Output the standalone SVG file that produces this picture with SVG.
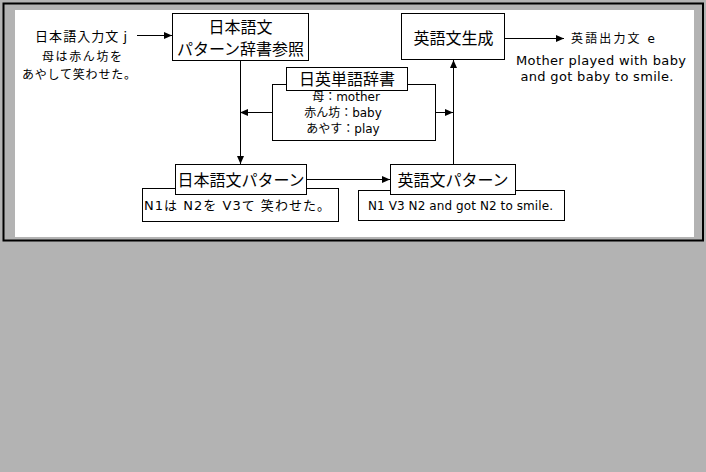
<svg xmlns="http://www.w3.org/2000/svg" width="706" height="472" viewBox="0 0 706 472">
<style>
.box{fill:#fff;stroke:#000;stroke-width:1}
.ln{fill:none;stroke:#000;stroke-width:1}
text{font-family:"DejaVu Sans","Noto Sans CJK JP",sans-serif;fill:#000}
.jp{font-family:"Noto Sans CJK JP",sans-serif}
.t16{font-size:16px}
.t13{font-size:13px}
.t12{font-size:12px}
.c{text-anchor:middle}
</style>
<defs>
<marker id="ah" markerUnits="userSpaceOnUse" markerWidth="9" markerHeight="8" refX="8" refY="4" orient="auto">
<path d="M0,0.5 L8,4 L0,7.5 z" fill="#000"/>
</marker>
</defs>
<rect x="0" y="0" width="706" height="472" fill="#b3b3b3"/>
<rect x="3.5" y="3.5" width="699.5" height="237" fill="#b3b3b3" stroke="#000" stroke-width="2"/>
<rect x="15" y="10" width="679" height="227" fill="#fff"/>

<g id="connectors">
<line class="ln" x1="137" y1="35.5" x2="172" y2="35.5" marker-end="url(#ah)"/>
<line class="ln" x1="240.5" y1="60" x2="240.5" y2="164" marker-end="url(#ah)"/>
<line class="ln" x1="272" y1="112.5" x2="240" y2="112.5" marker-end="url(#ah)"/>
<line class="ln" x1="435" y1="112.5" x2="453" y2="112.5" marker-end="url(#ah)"/>
<line class="ln" x1="453.5" y1="164" x2="453.5" y2="60" marker-end="url(#ah)"/>
<line class="ln" x1="306" y1="179.5" x2="390" y2="179.5" marker-end="url(#ah)"/>
<line class="ln" x1="504" y1="38.5" x2="564" y2="38.5" marker-end="url(#ah)"/>
</g>

<g id="input">
<text class="jp t13" x="35" y="41" textLength="92">日本語入力文  j</text>
<text class="jp t12 c" x="82" y="61" textLength="80">母は赤ん坊を</text>
<text class="jp t12 c" x="79" y="79" textLength="114">あやして笑わせた。</text>
</g>

<g id="jp-dict">
<rect class="box" x="172.5" y="13.5" width="136" height="47"/>
<text class="jp t16 c" x="240.5" y="33">日本語文</text>
<text class="jp t16 c" x="240.5" y="55">パターン辞書参照</text>
</g>

<g id="en-gen">
<rect class="box" x="401.5" y="13.5" width="103" height="46"/>
<text class="jp t16 c" x="453.5" y="44">英語文生成</text>
</g>

<g id="output">
<text class="t12" x="571" y="43" textLength="84">英語出力文 e</text>
<text class="t13 c" x="601" y="65" textLength="170">Mother played with baby</text>
<text class="t13 c" x="597" y="81" textLength="153">and got baby to smile.</text>
</g>

<g id="je-dict">
<rect class="box" x="272.5" y="84.5" width="163" height="56"/>
<rect class="box" x="286.5" y="67.5" width="121" height="23"/>
<text class="jp t16 c" x="347" y="85">日英単語辞書</text>
<text class="t12 c" x="346" y="101">母：mother</text>
<text class="t12 c" x="343" y="117">赤ん坊：baby</text>
<text class="t12 c" x="343" y="133">あやす：play</text>
</g>

<g id="jp-pattern">
<rect class="box" x="142.5" y="188.5" width="196" height="33"/>
<rect class="box" x="175.5" y="164.5" width="131" height="30"/>
<text class="jp t16 c" x="241" y="186">日本語文パターン</text>
<text class="t13" x="144" y="210" textLength="186">N1は N2を V3て 笑わせた。</text>
</g>

<g id="en-pattern">
<rect class="box" x="358.5" y="190.5" width="206" height="30"/>
<rect class="box" x="390.5" y="164.5" width="125" height="30"/>
<text class="jp t16 c" x="453" y="186">英語文パターン</text>
<text class="t12" x="368" y="210" textLength="185">N1 V3 N2 and got N2 to smile.</text>
</g>
</svg>
